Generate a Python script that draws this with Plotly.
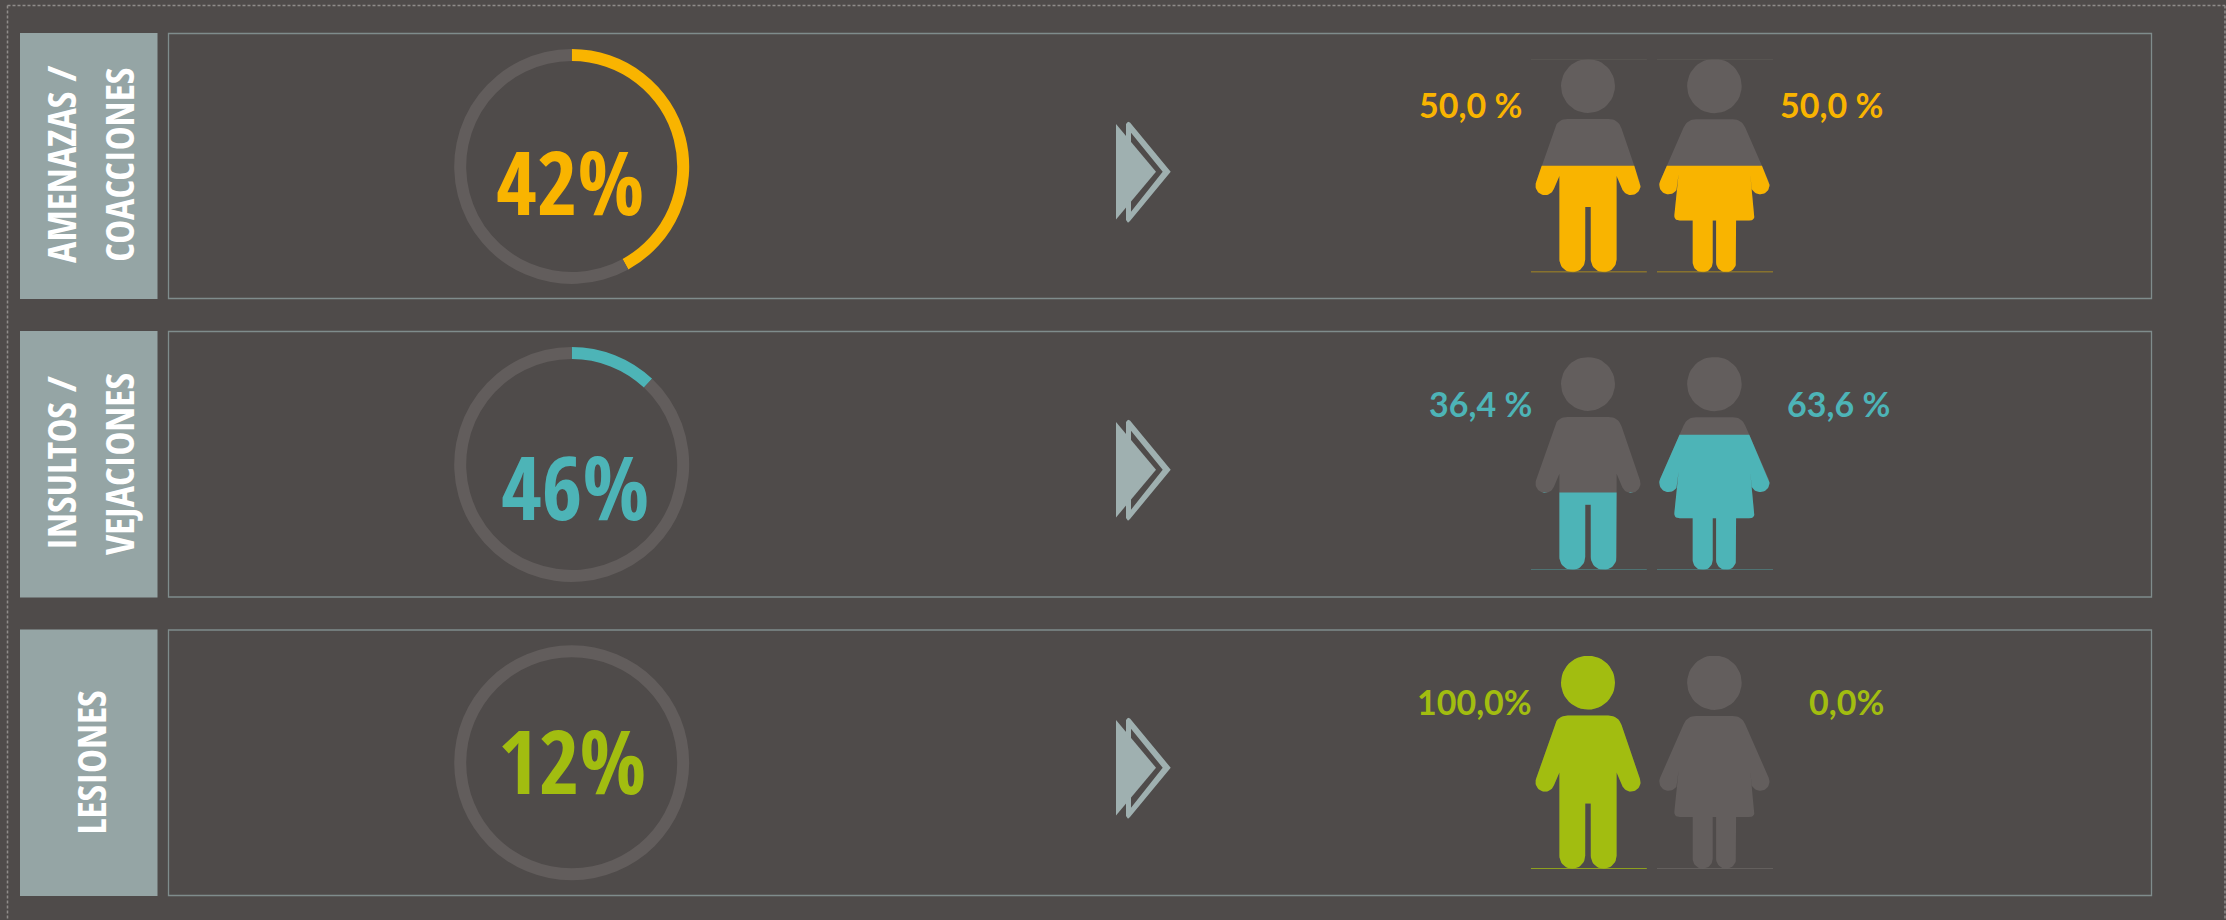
import math
import plotly.graph_objects as go

W, H = 2226, 920

# ---- data ----
category_lines = [["AMENAZAS /", "COACCIONES"], ["INSULTOS /", "VEJACIONES"], ["LESIONES"]]
headline_labels = ["42%", "46%", "12%"]
ring_values = [42, 12, 0]
male_values = [50.0, 36.4, 100.0]
female_values = [50.0, 63.6, 0.0]
male_labels = ["50,0 %", "36,4 %", "100,0%"]
female_labels = ["50,0 %", "63,6 %", "0,0%"]
row_colors = ["#f9b400", "#4db4b7", "#a2bd10"]

# ---- layout constants (pixels) ----
BG = "#4f4b4a"
GREY = "#635e5d"
RING = "#625d5c"
BOX = "#95a5a5"
EDGE = "#7f8c8c"
ARROW = "#9fb0b0"
rows_top = [33.5, 331.5, 630.0]
rows_bot = [298.5, 597.0, 895.5]
ring_cy = [166.5, 464.5, 762.8]
ring_cx = 571.7
R_OUT, R_IN = 117.5, 105.5
head_baseline = [215, 520, 794]
head_cx = [570.3, 575, 571.5]
feet_y = [272.3, 570.0, 868.7]
top_y = [59.3, 357.3, 656.0]
arrow_dy = [0, 298, 596]
left_cx = [1470.4, 1480.4, 1474]
right_cx = [1831.6, 1838.5, 1846]
val_baseline = [118, 416.7, 715]
base_cols_m = ["#c09a14", "#4f7f80", "#a2bd10"]
base_cols_f = ["#c09a14", "#4f7f80", "#6a6664"]
label_x = [[60.4, 118.2], [60.5, 118.4], [89.5]]
label_y = [164.5, 463.5, 763]

LABEL_FONT = "Open Sans Condensed"
VALUE_FONT = "Lato"


def X(px):
    return px / W


def Y(py):
    return 1 - py / H


# ---- pictogram outlines (template geometry, px around the figure axis, feet at 0) ----
def arc(cx, cy, r, a0, a1, n=24):
    return [(cx + r * math.cos(math.radians(a0 + (a1 - a0) * i / n)),
             cy + r * math.sin(math.radians(a0 + (a1 - a0) * i / n))) for i in range(n + 1)]


def corner(p0, p, p1, r, n=8):
    def toward(a, b, d):
        L = math.hypot(b[0] - a[0], b[1] - a[1])
        return (a[0] + (b[0] - a[0]) * d / L, a[1] + (b[1] - a[1]) * d / L)
    s, e = toward(p, p0, r), toward(p, p1, r)
    out = []
    for i in range(n + 1):
        t = i / n
        out.append(((1 - t) ** 2 * s[0] + 2 * t * (1 - t) * p[0] + t ** 2 * e[0],
                    (1 - t) ** 2 * s[1] + 2 * t * (1 - t) * p[1] + t ** 2 * e[1]))
    return out


def mirrored(right):
    return right + [(-x, y) for x, y in reversed(right)]


def man_outline():
    hand = arc(43, 86.7, 9.5, 19, -160)
    pts = corner((0, 153.3), (30.3, 153.3), hand[0], 10)
    pts += hand
    pts += [(28.6, 96.3)]
    pts += arc(15.7, 12.9, 12.9, 0, -180)
    pts += [(2.75, 65.3), (0, 65.3)]
    return mirrored(pts)


def woman_outline():
    hand = arc(45.8, 87.3, 9.3, 24, -155)
    pts = corner((0, 153), (27.2, 153), hand[0], 9)
    pts += hand
    pts += [(35.8, 98.3)]
    pts += corner((35.8, 98.3), (40.6, 51.7), (21.7, 51.7), 6)
    pts += [(21.7, 51.7)]
    pts += arc(11.7, 10, 10, 0, -180)
    pts += [(1.7, 51.7), (0, 51.7)]
    return mirrored(pts)


HEIGHT_PX = 213.0
man_parts = [man_outline(), arc(0, 186.3, 27.0, 0, 360, 48)]
woman_parts = [woman_outline(), arc(0, 186.3, 27.3, 0, 360, 48)]


def clip_below(poly, level):
    """Keep the part of a polygon under a horizontal level (y in percent of height)."""
    out = []
    for i, a in enumerate(poly):
        b = poly[(i + 1) % len(poly)]
        ina, inb = a[1] <= level, b[1] <= level
        if ina:
            out.append(a)
        if ina != inb:
            t = (level - a[1]) / (b[1] - a[1])
            out.append((a[0] + (b[0] - a[0]) * t, level))
    return out


def to_xy(parts, level=None):
    xs, ys = [], []
    for part in parts:
        pct = [(x, y / HEIGHT_PX * 100) for x, y in part]
        if level is not None:
            pct = clip_below(pct, level)
        if not pct:
            continue
        xs += [p[0] for p in pct] + [pct[0][0], None]
        ys += [p[1] for p in pct] + [pct[0][1], None]
    return xs, ys


def svg_path(points):
    return "M " + " L ".join(f"{X(a)},{Y(b)}" for a, b in points) + " Z"


fig = go.Figure()
shapes = []
ann = []


def rect(x0, y0, x1, y1, **kw):
    shapes.append(dict(type="rect", xref="paper", yref="paper", x0=X(x0), x1=X(x1),
                       y0=Y(y0), y1=Y(y1), **kw))


# outer dashed frame
dash = dict(color="#8f8c8a", width=1.5, dash="3px,2px")
for (a, b, c, d) in [(7.5, 5.5, 2225, 5.5), (7.5, 5.5, 7.5, 920), (2225, 5.5, 2225, 920)]:
    shapes.append(dict(type="line", xref="paper", yref="paper", x0=X(a), x1=X(c),
                       y0=Y(b), y1=Y(d), line=dash))

axis_id = 0
for r in range(3):
    color = row_colors[r]
    # category box and panel
    rect(20, rows_top[r] - 0.5, 157.5, rows_bot[r] + 0.5, fillcolor=BOX, line=dict(width=0))
    rect(168.5, rows_top[r], 2151.5, rows_bot[r], line=dict(color=EDGE, width=1.3))

    # ring
    fig.add_trace(go.Pie(
        values=[ring_values[r], 100 - ring_values[r]], hole=R_IN / R_OUT, sort=False,
        direction="clockwise", rotation=0, textinfo="none", hoverinfo="skip", showlegend=False,
        marker=dict(colors=[color, RING], line=dict(width=0)),
        domain=dict(x=[X(ring_cx - R_OUT), X(ring_cx + R_OUT)],
                    y=[Y(ring_cy[r] + R_OUT), Y(ring_cy[r] - R_OUT)]),
    ))

    # headline number
    ann.append(dict(x=X(head_cx[r]), y=Y(head_baseline[r] - 34), xref="paper", yref="paper",
                    text=f"<b>{headline_labels[r]}</b>", showarrow=False, xanchor="center", yanchor="middle",
                    font=dict(family=LABEL_FONT, size=88, color=color)))

    # category text
    for line, lx in zip(category_lines[r], label_x[r]):
        ann.append(dict(x=X(lx), y=Y(label_y[r]), xref="paper", yref="paper", text=f"<b>{line}</b>",
                        textangle=-90, showarrow=False, xanchor="center", yanchor="middle",
                        font=dict(family=LABEL_FONT, size=40, color="#ffffff")))

    # percentage labels
    for cx, txt in ((left_cx[r], male_labels[r]), (right_cx[r], female_labels[r])):
        ann.append(dict(x=X(cx), y=Y(val_baseline[r] - 13.5), xref="paper", yref="paper", text=f"<b>{txt}</b>",
                        showarrow=False, xanchor="center", yanchor="middle",
                        font=dict(family=VALUE_FONT, size=34, color=color)))

    # arrow: outline chevron with a hole, and the solid triangle over it
    dy = arrow_dy[r]
    outer = [(1126, 124 + dy), (1128, 121.7 + dy), (1130, 122.5 + dy), (1170.7, 171.7 + dy),
             (1130, 221 + dy), (1128, 222.7 + dy), (1126, 220 + dy)]
    inner = [(1131, 132.7 + dy), (1162.7, 171.7 + dy), (1131, 211.7 + dy)]
    shapes.append(dict(type="path", xref="paper", yref="paper", fillrule="evenodd",
                       path=svg_path(outer) + " " + svg_path(inner),
                       line=dict(width=0), fillcolor=ARROW))
    shapes.append(dict(type="path", xref="paper", yref="paper",
                       path=svg_path([(1116, 124 + dy), (1156, 171.7 + dy), (1116, 219.5 + dy)]),
                       line=dict(width=0), fillcolor=ARROW))

    # pictograms, each on its own axes: y runs 0-100 % of the figure height
    for parts, value, (px0, px1, c), base in (
        (man_parts, male_values[r], (1530.8, 1646.9, 1588.0), base_cols_m[r]),
        (woman_parts, female_values[r], (1656.9, 1773.0, 1714.4), base_cols_f[r]),
    ):
        axis_id += 1
        xa, ya = f"x{axis_id}", f"y{axis_id}"
        fig.update_layout({
            f"xaxis{axis_id}": dict(domain=[X(px0), X(px1)], range=[px0 - c, px1 - c], anchor=ya, visible=False),
            f"yaxis{axis_id}": dict(domain=[Y(feet_y[r]), Y(top_y[r])], range=[0, 100], anchor=xa, visible=False),
        })
        gx, gy = to_xy(parts)
        fig.add_trace(go.Scatter(x=gx, y=gy, xaxis=xa, yaxis=ya, mode="lines", fill="toself",
                                 fillcolor=GREY, line=dict(width=0), hoverinfo="skip", showlegend=False))
        if value > 0:
            fx, fy = to_xy(parts, value)
            fig.add_trace(go.Scatter(x=fx, y=fy, xaxis=xa, yaxis=ya, mode="lines", fill="toself",
                                     fillcolor=color, line=dict(width=0), hoverinfo="skip", showlegend=False))
        fig.add_trace(go.Scatter(x=[px0 - c, px1 - c], y=[0, 0], xaxis=xa, yaxis=ya, mode="lines",
                                 line=dict(color=base, width=1.5), cliponaxis=False,
                                 hoverinfo="skip", showlegend=False))
        if r == 0:
            fig.add_trace(go.Scatter(x=[px0 - c, px1 - c], y=[100, 100], xaxis=xa, yaxis=ya, mode="lines",
                                     line=dict(color="#5e5a58", width=1), cliponaxis=False,
                                     hoverinfo="skip", showlegend=False))

fig.update_layout(width=W, height=H, margin=dict(l=0, r=0, t=0, b=0, pad=0),
                  paper_bgcolor=BG, plot_bgcolor=BG, showlegend=False,
                  shapes=shapes, annotations=ann)
fig.write_html("out.html", config=dict(displayModeBar=False), post_script="document.body.style.margin='0';")
